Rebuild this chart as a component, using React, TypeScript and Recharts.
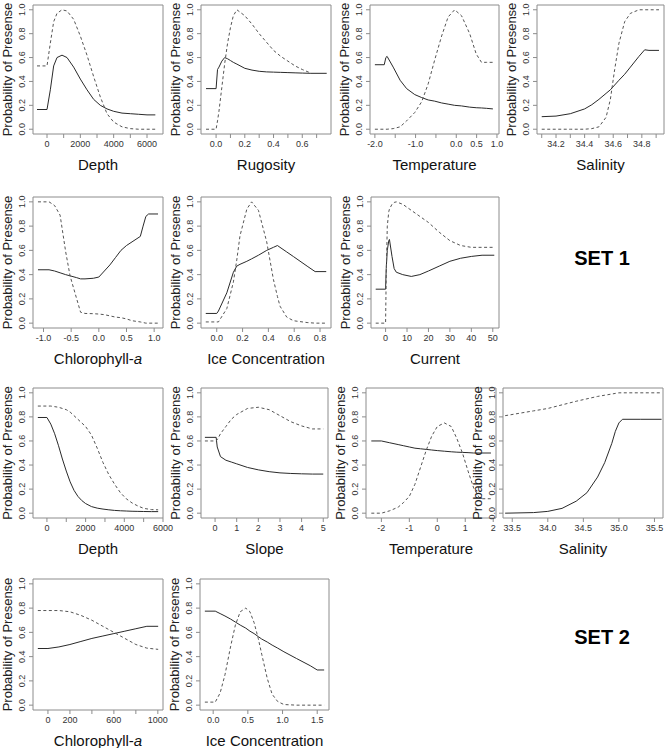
import { LineChart, Line, XAxis, YAxis, ReferenceArea } from "recharts";

const FONT = "'Liberation Sans', Arial, Helvetica, sans-serif";
const FRAME = "#8c8c8c";
const Y_TICKS = [0, 0.2, 0.4, 0.6, 0.8, 1.0];

// ---------- SET 1 ----------
const depth1X = [-600, 0, 200, 400, 600, 900, 1200, 1600, 2000, 2400, 2800, 3200, 3600, 4000, 4500, 5000, 5500, 6000, 6500];
const depth1Solid = [0.165, 0.165, 0.33, 0.53, 0.6, 0.62, 0.6, 0.52, 0.42, 0.33, 0.25, 0.2, 0.17, 0.15, 0.135, 0.13, 0.125, 0.12, 0.12];
const depth1Dashed = [0.53, 0.53, 0.72, 0.9, 0.97, 1.0, 0.99, 0.92, 0.78, 0.62, 0.44, 0.27, 0.13, 0.06, 0.02, 0.005, 0, 0, 0];
const depth1Ticks = [0, 1000, 2000, 3000, 4000, 5000, 6000];
const depth1Labels = ["0", "", "2000", "", "4000", "", "6000"];

const rugX = [-0.07, 0, 0.01, 0.02, 0.04, 0.06, 0.08, 0.1, 0.12, 0.145, 0.2, 0.25, 0.3, 0.35, 0.4, 0.45, 0.5, 0.55, 0.6, 0.66, 0.77];
const rugSolid = [0.34, 0.34, 0.5, 0.52, 0.57, 0.6, 0.59, 0.575, 0.56, 0.545, 0.51, 0.495, 0.485, 0.48, 0.478, 0.476, 0.474, 0.472, 0.47, 0.468, 0.468];
const rugDashed = [0, 0, 0.07, 0.15, 0.35, 0.55, 0.72, 0.85, 0.95, 1.0, 0.95, 0.88, 0.8, 0.73, 0.66, 0.61, 0.57, 0.53, 0.5, 0.47, null];
const rugTicks = [0, 0.1, 0.2, 0.3, 0.4, 0.5, 0.6, 0.7];
const rugLabels = ["0.0", "", "0.2", "", "0.4", "", "0.6", ""];

const temp1X = [-2.0, -1.77, -1.73, -1.7, -1.55, -1.38, -1.22, -1.02, -0.85, -0.69, -0.53, -0.36, -0.2, -0.04, 0.13, 0.33, 0.49, 0.62, 0.74, 0.9];
const temp1Solid = [0.54, 0.54, 0.6, 0.61, 0.52, 0.41, 0.34, 0.29, 0.265, 0.245, 0.235, 0.22, 0.21, 0.2, 0.195, 0.185, 0.18, 0.178, 0.175, 0.17];
const temp1Dashed = [0, 0, 0, 0, 0.005, 0.02, 0.07, 0.14, 0.23, 0.38, 0.58, 0.78, 0.94, 1.0, 0.95, 0.8, 0.63, 0.56, 0.56, 0.56];
const temp1Ticks = [-2, -1.5, -1, -0.5, 0, 0.5, 1];
const temp1Labels = ["-2.0", "", "-1.0", "", "0.0", "0.5", "1.0"];

const sal1X = [34.1, 34.2, 34.3, 34.4, 34.45, 34.5, 34.55, 34.58, 34.61, 34.64, 34.68, 34.72, 34.78, 34.82, 34.85, 34.92];
const sal1Solid = [0.105, 0.11, 0.13, 0.17, 0.205, 0.25, 0.3, 0.33, 0.37, 0.41, 0.46, 0.52, 0.61, 0.665, 0.66, 0.66];
const sal1Dashed = [0, 0, 0, 0, 0.005, 0.02, 0.1, 0.25, 0.5, 0.72, 0.9, 0.97, 1.0, 1.0, 1.0, 1.0];
const sal1Ticks = [34.1, 34.2, 34.3, 34.4, 34.5, 34.6, 34.7, 34.8, 34.9];
const sal1Labels = ["", "34.2", "", "34.4", "", "34.6", "", "34.8", ""];

const chl1X = [-1.1, -0.9, -0.8, -0.7, -0.6, -0.52, -0.4, -0.33, -0.25, -0.1, 0.0, 0.1, 0.2, 0.3, 0.4, 0.5, 0.6, 0.75, 0.8, 0.85, 0.9, 1.07];
const chl1Solid = [0.44, 0.44, 0.43, 0.415, 0.4, 0.39, 0.375, 0.365, 0.365, 0.37, 0.38, 0.43, 0.48, 0.54, 0.6, 0.64, 0.67, 0.715, 0.8, 0.88, 0.9, 0.9];
const chl1Dashed = [1.0, 1.0, 0.97, 0.89, 0.59, 0.39, 0.2, 0.09, 0.08, 0.078, 0.075, 0.07, 0.06, 0.05, 0.045, 0.035, 0.02, 0.01, 0.005, 0, 0, 0];
const chl1Ticks = [-1, -0.5, 0, 0.5, 1];
const chl1Labels = ["-1.0", "-0.5", "0.0", "0.5", "1.0"];

const ice1X = [-0.085, 0.0, 0.013, 0.078, 0.129, 0.155, 0.18, 0.233, 0.27, 0.323, 0.387, 0.439, 0.47, 0.49, 0.542, 0.594, 0.7, 0.762, 0.848];
const ice1Solid = [0.08, 0.08, 0.1, 0.25, 0.42, 0.47, 0.485, 0.51, 0.53, 0.56, 0.6, 0.625, 0.64, 0.625, 0.587, 0.549, 0.47, 0.425, 0.425];
const ice1Dashed = [0.01, 0.01, 0.01, 0.12, 0.34, 0.52, 0.72, 0.94, 1.0, 0.93, 0.67, 0.36, 0.22, 0.14, 0.05, 0.02, 0.005, 0, 0];
const ice1Ticks = [0, 0.2, 0.4, 0.6, 0.8];
const ice1Labels = ["0.0", "0.2", "0.4", "0.6", "0.8"];

const curX = [-4.6, 0, 0.3, 0.8, 1.5, 1.8, 3, 4, 5, 8, 12, 16, 20, 25, 30, 35, 40, 45, 50.7];
const curSolid = [0.28, 0.28, 0.45, 0.6, 0.68, 0.69, 0.55, 0.45, 0.42, 0.4, 0.385, 0.4, 0.43, 0.47, 0.51, 0.535, 0.55, 0.56, 0.56];
const curDashed = [0, 0, 0.4, 0.8, 0.92, 0.94, 0.98, 0.995, 1.0, 0.98, 0.93, 0.88, 0.83, 0.75, 0.68, 0.64, 0.625, 0.625, 0.625];
const curTicks = [0, 10, 20, 30, 40, 50];
const curLabels = ["0", "10", "20", "30", "40", "50"];

// ---------- SET 2 ----------
const depth2X = [-470, 0, 200, 400, 600, 800, 1000, 1200, 1400, 1600, 1800, 2000, 2300, 2600, 2900, 3200, 3500, 3800, 4100, 4400, 4700, 5000, 5400, 5750];
const depth2Solid = [0.795, 0.795, 0.74, 0.66, 0.56, 0.45, 0.35, 0.26, 0.19, 0.14, 0.105, 0.08, 0.055, 0.042, 0.034, 0.028, 0.023, 0.02, 0.018, 0.016, 0.015, 0.014, 0.013, 0.013];
const depth2Dashed = [0.89, 0.89, 0.89, 0.885, 0.88, 0.87, 0.86, 0.84, 0.81, 0.78, 0.75, 0.72, 0.65, 0.54, 0.42, 0.32, 0.24, 0.17, 0.12, 0.085, 0.06, 0.04, 0.03, 0.028];
const depth2Ticks = [0, 1000, 2000, 3000, 4000, 5000, 6000];
const depth2Labels = ["0", "", "2000", "", "4000", "", "6000"];

const slopeX = [-0.47, 0.05, 0.1, 0.25, 0.5, 0.75, 1.0, 1.5, 2.0, 2.5, 3.0, 3.5, 4.0, 4.5, 5.0];
const slopeSolid = [0.63, 0.63, 0.55, 0.47, 0.44, 0.425, 0.41, 0.38, 0.36, 0.345, 0.335, 0.33, 0.327, 0.325, 0.325];
const slopeDashed = [0.6, 0.6, 0.61, 0.66, 0.72, 0.78, 0.82, 0.87, 0.88, 0.86, 0.81, 0.76, 0.725, 0.7, 0.7];
const slopeTicks = [0, 1, 2, 3, 4, 5];
const slopeLabels = ["0", "1", "2", "3", "4", "5"];

const temp2X = [-2.36, -2.0, -1.7, -1.4, -1.2, -1.0, -0.8, -0.6, -0.4, -0.2, 0.0, 0.25, 0.5, 0.7, 0.9, 1.1, 1.3, 1.5, 1.6, 1.92];
const temp2Solid = [0.6, 0.6, 0.585, 0.57, 0.56, 0.55, 0.54, 0.535, 0.53, 0.525, 0.52, 0.515, 0.51, 0.507, 0.505, 0.503, 0.5, 0.5, 0.5, 0.5];
const temp2Dashed = [0, 0, 0.02, 0.05, 0.09, 0.14, 0.24, 0.38, 0.52, 0.64, 0.72, 0.75, 0.72, 0.62, 0.5, 0.35, 0.21, 0.13, 0.12, 0.12];
const temp2Ticks = [-2, -1, 0, 1, 2];
const temp2Labels = ["-2", "-1", "0", "1", "2"];

const sal2X = [33.4, 33.8, 34.0, 34.2, 34.4, 34.55, 34.7, 34.8, 34.9, 34.95, 35.0, 35.05, 35.3, 35.6];
const sal2Solid = [0.0, 0.005, 0.015, 0.04, 0.1, 0.17, 0.3, 0.42, 0.58, 0.68, 0.75, 0.78, 0.78, 0.78];
const sal2Dashed = [0.81, 0.85, 0.87, 0.9, 0.93, 0.95, 0.97, 0.98, 0.99, 0.995, 1.0, 1.0, 1.0, 1.0];
const sal2Ticks = [33.5, 34, 34.5, 35, 35.5];
const sal2Labels = ["33.5", "34.0", "34.5", "35.0", "35.5"];

const chl2X = [-92, 0, 100, 200, 300, 400, 500, 600, 700, 800, 900, 1003];
const chl2Solid = [0.467, 0.467, 0.48, 0.5, 0.525, 0.55, 0.57, 0.59, 0.61, 0.63, 0.65, 0.65];
const chl2Dashed = [0.78, 0.78, 0.78, 0.77, 0.74, 0.7, 0.65, 0.6, 0.55, 0.5, 0.47, 0.46];
const chl2Ticks = [0, 200, 400, 600, 800, 1000];
const chl2Labels = ["0", "200", "", "600", "", "1000"];

const ice2X = [-0.12, 0.03, 0.1, 0.17, 0.25, 0.32, 0.39, 0.47, 0.53, 0.59, 0.65, 0.7, 0.78, 0.85, 0.93, 1.02, 1.2, 1.4, 1.5, 1.6];
const ice2Solid = [0.775, 0.775, 0.755, 0.735, 0.71, 0.685, 0.66, 0.635, 0.61, 0.59, 0.565, 0.545, 0.52, 0.495, 0.47, 0.44, 0.385, 0.325, 0.29, 0.29];
const ice2Dashed = [0.025, 0.025, 0.1, 0.25, 0.48, 0.66, 0.77, 0.8, 0.77, 0.68, 0.55, 0.42, 0.22, 0.09, 0.03, 0.005, 0, 0, 0, 0];
const ice2Ticks = [0, 0.5, 1, 1.5];
const ice2Labels = ["0.0", "0.5", "1.0", "1.5"];

type Panel = {
  title: React.ReactNode;
  x: number[];
  solid: (number | null)[];
  dashed: (number | null)[];
  domain: [number, number];
  ticks: number[];
  labels: string[];
  box: [number, number, number, number]; // plot area: left, top, right, bottom
};

const panels: Panel[] = [
  { title: "Depth", x: depth1X, solid: depth1Solid, dashed: depth1Dashed, domain: [-840, 6960], ticks: depth1Ticks, labels: depth1Labels, box: [33, 5, 163, 134] },
  { title: "Rugosity", x: rugX, solid: rugSolid, dashed: rugDashed, domain: [-0.105, 0.8], ticks: rugTicks, labels: rugLabels, box: [201, 5, 331, 134] },
  { title: "Temperature", x: temp1X, solid: temp1Solid, dashed: temp1Dashed, domain: [-2.12, 1.05], ticks: temp1Ticks, labels: temp1Labels, box: [370, 5, 499, 134] },
  { title: "Salinity", x: sal1X, solid: sal1Solid, dashed: sal1Dashed, domain: [34.067, 34.955], ticks: sal1Ticks, labels: sal1Labels, box: [537, 5, 664, 134] },
  { title: <>Chlorophyll-<i>a</i></>, x: chl1X, solid: chl1Solid, dashed: chl1Dashed, domain: [-1.19, 1.16], ticks: chl1Ticks, labels: chl1Labels, box: [33, 197, 163, 328] },
  { title: "Ice Concentration", x: ice1X, solid: ice1Solid, dashed: ice1Dashed, domain: [-0.122, 0.885], ticks: ice1Ticks, labels: ice1Labels, box: [201, 197, 331, 328] },
  { title: "Current", x: curX, solid: curSolid, dashed: curDashed, domain: [-6.8, 52.9], ticks: curTicks, labels: curLabels, box: [371, 197, 499, 328] },
  { title: "Depth", x: depth2X, solid: depth2Solid, dashed: depth2Dashed, domain: [-720, 6000], ticks: depth2Ticks, labels: depth2Labels, box: [33, 388, 163, 518] },
  { title: "Slope", x: slopeX, solid: slopeSolid, dashed: slopeDashed, domain: [-0.65, 5.22], ticks: slopeTicks, labels: slopeLabels, box: [201, 388, 328, 518] },
  { title: "Temperature", x: temp2X, solid: temp2Solid, dashed: temp2Dashed, domain: [-2.55, 2.1], ticks: temp2Ticks, labels: temp2Labels, box: [366, 388, 496, 518] },
  { title: "Salinity", x: sal2X, solid: sal2Solid, dashed: sal2Dashed, domain: [33.37, 35.62], ticks: sal2Ticks, labels: sal2Labels, box: [503, 388, 663, 518] },
  { title: <>Chlorophyll-<i>a</i></>, x: chl2X, solid: chl2Solid, dashed: chl2Dashed, domain: [-136, 1047], ticks: chl2Ticks, labels: chl2Labels, box: [33, 579, 163, 710] },
  { title: "Ice Concentration", x: ice2X, solid: ice2Solid, dashed: ice2Dashed, domain: [-0.19, 1.67], ticks: ice2Ticks, labels: ice2Labels, box: [200, 579, 329, 710] },
];

const PAD_L = 40;
const PAD_T = 6;
const PAD_R = 16;
const PAD_B = 44;

function YTick(props: any) {
  const { x, y, payload } = props;
  const tx = x - 2;
  return (
    <text x={tx} y={y} transform={`rotate(-90, ${tx}, ${y})`} textAnchor="middle" fontSize={9} fill="#333" fontFamily={FONT}>
      {Number(payload.value).toFixed(1)}
    </text>
  );
}

function PlotPanel({ p }: { p: Panel }) {
  const [x0, y0, x1, y1] = p.box;
  const rows = p.x.map((x, i) => ({ x, solid: p.solid[i], dashed: p.dashed[i] }));
  return (
    <>
      <div style={{ position: "absolute", left: x0 - PAD_L, top: y0 - PAD_T }}>
        <LineChart
          width={x1 - x0 + PAD_L + PAD_R}
          height={y1 - y0 + PAD_T + PAD_B}
          data={rows}
          margin={{ top: PAD_T, right: PAD_R, bottom: 0, left: 0 }}
        >
          <XAxis
            type="number"
            dataKey="x"
            domain={p.domain}
            allowDataOverflow
            ticks={p.ticks}
            interval={0}
            tickFormatter={(v: number, i: number) => p.labels[i] ?? ""}
            height={PAD_B}
            tickSize={4}
            tickMargin={3}
            axisLine={false}
            stroke={FRAME}
            tick={{ fontSize: 9, fill: "#333", fontFamily: FONT }}
          />
          <YAxis
            type="number"
            domain={[-0.04, 1.04]}
            allowDataOverflow
            ticks={Y_TICKS}
            interval={0}
            width={PAD_L}
            tickSize={4}
            axisLine={false}
            stroke={FRAME}
            tick={<YTick />}
            label={{
              value: "Probability of Presense",
              angle: -90,
              position: "insideLeft",
              offset: 14,
              fontSize: 13,
              fill: "#222",
              style: { textAnchor: "middle", fontSize: 13, fontFamily: FONT, fill: "#222" },
            }}
          />
          <ReferenceArea
            x1={p.domain[0]}
            x2={p.domain[1]}
            y1={-0.04}
            y2={1.04}
            fill="none"
            stroke={FRAME}
            strokeWidth={1}
            ifOverflow="visible"
          />
          <Line type="linear" dataKey="solid" stroke="#2a2a2a" strokeWidth={1} dot={false} isAnimationActive={false} />
          <Line type="linear" dataKey="dashed" stroke="#555" strokeWidth={1} strokeDasharray="3 2.5" dot={false} isAnimationActive={false} />
        </LineChart>
      </div>
      <div
        style={{
          position: "absolute",
          left: x0 - 20,
          width: x1 - x0 + 40,
          top: y1 + 22,
          textAlign: "center",
          fontFamily: FONT,
          fontSize: 15,
          lineHeight: "18px",
          color: "#111",
          whiteSpace: "nowrap",
        }}
      >
        {p.title}
      </div>
    </>
  );
}

const setLabel = (top: number): React.CSSProperties => ({
  position: "absolute",
  left: 552,
  width: 100,
  top,
  textAlign: "center",
  fontFamily: FONT,
  fontWeight: "bold",
  fontSize: 20,
  lineHeight: "24px",
  color: "#000",
});

export default function App() {
  return (
    <div style={{ position: "absolute", left: 0, top: 0, width: 671, height: 748, background: "#fff" }}>
      {panels.map((p, i) => (
        <PlotPanel key={i} p={p} />
      ))}
      <div style={setLabel(246)}>SET 1</div>
      <div style={setLabel(625)}>SET 2</div>
    </div>
  );
}
